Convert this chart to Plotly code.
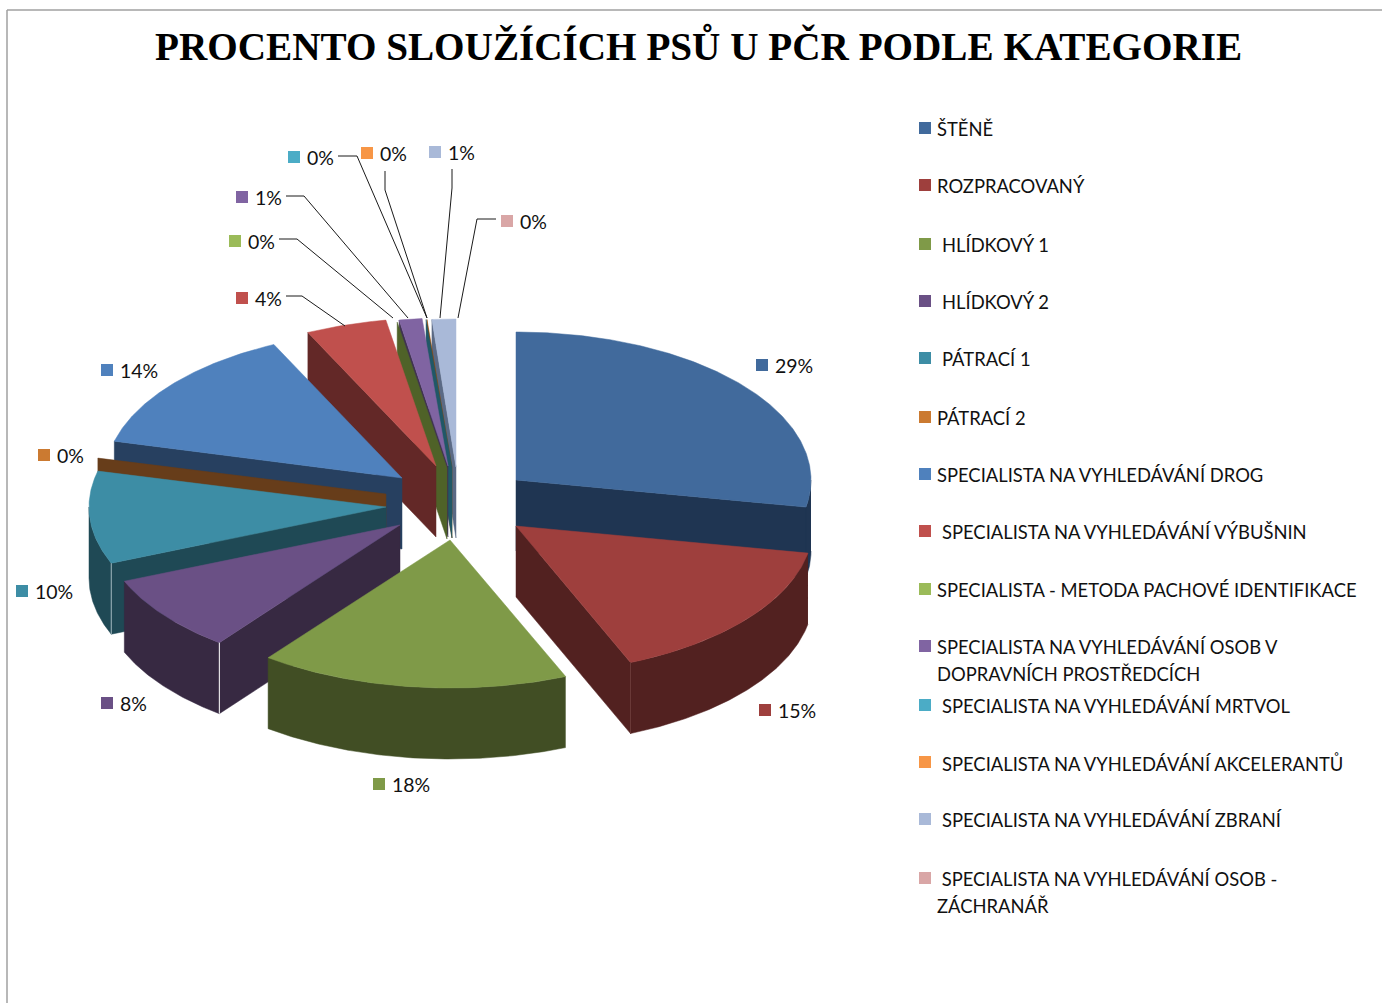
import numpy as np
import plotly.graph_objects as go

TITLE = "PROCENTO SLOUŽÍCÍCH PSŮ U PČR PODLE KATEGORIE"
categories = ["ŠTĚNĚ", "ROZPRACOVANÝ", "HLÍDKOVÝ 1", "HLÍDKOVÝ 2", "PÁTRACÍ 1", "PÁTRACÍ 2",
              "SPECIALISTA NA VYHLEDÁVÁNÍ DROG", "SPECIALISTA NA VYHLEDÁVÁNÍ VÝBUŠNIN",
              "SPECIALISTA - METODA PACHOVÉ IDENTIFIKACE",
              "SPECIALISTA NA VYHLEDÁVÁNÍ OSOB V<br>DOPRAVNÍCH PROSTŘEDCÍCH",
              "SPECIALISTA NA VYHLEDÁVÁNÍ MRTVOL", "SPECIALISTA NA VYHLEDÁVÁNÍ AKCELERANTŮ",
              "SPECIALISTA NA VYHLEDÁVÁNÍ ZBRANÍ", "\u00a0SPECIALISTA NA VYHLEDÁVÁNÍ OSOB -<br>ZÁCHRANÁŘ"]
values = [28.6, 15.1, 17.5, 7.6, 10.1, 0.1, 13.9, 4.4, 0.05, 1.25, 0.05, 0.05, 1.3, 0.0]
value_labels = ["29%", "15%", "18%", "8%", "10%", "0%", "14%", "4%", "0%", "1%", "0%", "0%", "1%", "0%"]

top_colors = ["#416A9C", "#9E3F3D", "#7F9A48", "#6A5085", "#3D8DA5", "#CB7A31", "#4F81BD", "#C0504D",
              "#9BBB59", "#8064A2", "#4BACC6", "#F79646", "#A9B9D8", "#D9A6A6"]
wall_colors = ["#1F3552", "#522120", "#414E24", "#372942", "#1F4955", "#673D1A", "#274060", "#632827",
               "#4F6228", "#3F3151", "#205867", "#974806", "#5B6A85", "#8A6A6A"]
swatch_colors = ["#416A9C", "#9E3F3D", "#7F9A48", "#6A5085", "#3D8DA5", "#CB7A31", "#4F81BD", "#C0504D",
                 "#9BBB59", "#8064A2", "#4BACC6", "#F79646", "#A9B9D8", "#D9A6A6"]
seam_colors = [None, "#6B3A38", None, "#FFFFFF", "#9DB4BC", None, None, None, None, None, None, None, None, None]

# page geometry of the exploded 3-D pie
slice_rx = [295, 297, 300, 298, 297, 297, 297, 297, 295, 295, 295, 295, 295, 295]
RY, DEPTH = 148, 71
centers_x = [516, 516, 450, 400, 386, 386, 402, 436, 447, 448, 452, 452, 456, 457]
centers_y = [480, 526, 540, 525, 507, 494, 478, 466, 468, 466, 467, 467, 467, 467]
draw_order = [13, 12, 11, 10, 9, 8, 7, 6, 5, 4, 0, 1, 3, 2]
# small on-screen shift of some slice boundaries (perspective of the drawing), in degrees
edge_shift = [0, -2.4, 0, -3.0, 0, 0, 0, 0, 0, 0, 0, 0, 0, 0, 0]
SLIVER_DEG = 0.6

# data-label layout
label_sq_x = [762, 765, 379, 107, 22, 44, 107, 242, 235, 242, 294, 367, 435, 507]
label_sq_y = [365, 710, 784, 703, 591, 455, 370, 298, 241, 197, 157, 153, 152, 221]
leaders = {7: ([286, 302, 345], [296, 296, 326]),
           8: ([279, 297, 393], [239, 239, 318]),
           9: ([286, 304, 408], [196, 196, 318]),
           10: ([338, 357, 427], [156, 156, 318]),
           11: ([385, 385, 427], [171, 190, 318]),
           12: ([452, 452, 440], [169, 188, 318]),
           13: ([496, 477, 458], [219, 219, 318])}

# legend layout
legend_sq_y = [128, 185, 244, 301, 358, 417, 474, 531, 589, 646, 705, 762, 819, 878]
legend_text_x = [935, 935, 940, 940, 940, 935, 935, 940, 935, 935, 940, 940, 940, 935]
legend_text_y = [129, 186, 245, 302, 359, 418, 475, 532, 590, 647, 706, 763, 820, 879]
LEGEND_LINE_GAP = 26.5
LEGEND_SQ_X = 925
BODY = "Lato, Carlito, sans-serif"
LABEL_SIZE = 19.5
LEGEND_SIZE = 18.4

fig = go.Figure()


def pt(cx, cy, rx, deg):
    t = np.radians(deg)
    return cx + rx * np.sin(t), cy - RY * np.cos(t)


def poly(xs, ys, color):
    fig.add_trace(go.Scatter(x=list(xs), y=list(ys), mode="lines", fill="toself", fillcolor=color,
                             line=dict(color=color, width=0.5), hoverinfo="skip", showlegend=False))


total = sum(values)
edges = np.concatenate([[0], np.cumsum(values) / total * 360]) + np.array(edge_shift)

for i in draw_order:
    a, b = edges[i], edges[i + 1]
    if b - a <= 0:
        continue
    cx, cy, rx = centers_x[i], centers_y[i], slice_rx[i]
    # radial walls
    for deg, visible in ((a, 180 < a < 360), (b, 0 < b < 180)):
        if visible:
            ex, ey = pt(cx, cy, rx, deg)
            poly([cx, ex, ex, cx, cx], [cy, ey, ey + DEPTH, cy + DEPTH, cy], wall_colors[i])
    # outer rim
    lo, hi = max(a, 90), min(b, 270)
    if hi > lo:
        th = np.linspace(lo, hi, max(int(hi - lo) * 2, 2))
        xs, ys = pt(cx, cy, rx, th)
        poly(np.r_[xs, xs[::-1]], np.r_[ys, ys[::-1] + DEPTH], wall_colors[i])
    # top face (hairline slices show only their wall)
    if b - a > SLIVER_DEG:
        th = np.linspace(a, b, max(int((b - a) * 2), 2))
        xs, ys = pt(cx, cy, rx, th)
        poly(np.r_[cx, xs, cx], np.r_[cy, ys, cy], top_colors[i])
    # lit seam on the front corner
    if seam_colors[i]:
        sx, sy = pt(cx, cy, rx, a if a > 180 else b)
        fig.add_trace(go.Scatter(x=[sx, sx], y=[sy, sy + DEPTH], mode="lines",
                                 line=dict(color=seam_colors[i], width=1),
                                 hoverinfo="skip", showlegend=False))

for k, (lx, ly) in leaders.items():
    fig.add_trace(go.Scatter(x=lx, y=ly, mode="lines", line=dict(color="#1a1a1a", width=1),
                             hoverinfo="skip", showlegend=False))

# data-label swatches and legend swatches
fig.add_trace(go.Scatter(x=label_sq_x, y=label_sq_y, mode="markers",
                         marker=dict(symbol="square", size=12, color=swatch_colors, line=dict(width=0)),
                         hoverinfo="skip", showlegend=False))
fig.add_trace(go.Scatter(x=[LEGEND_SQ_X] * len(legend_sq_y), y=legend_sq_y, mode="markers",
                         marker=dict(symbol="square", size=12, color=swatch_colors, line=dict(width=0)),
                         hoverinfo="skip", showlegend=False))

annotations = [dict(x=698, y=45.5, text=f"<b>{TITLE}</b>", showarrow=False, xref="x", yref="y",
                    font=dict(family="Liberation Serif", size=39.2, color="#000000"))]
for sx, sy, txt in zip(label_sq_x, label_sq_y, value_labels):
    annotations.append(dict(x=sx + 11, y=sy, text=txt, showarrow=False, xref="x", yref="y", xanchor="left",
                            font=dict(family=BODY, size=LABEL_SIZE, color="#111111")))
for tx, ty, txt in zip(legend_text_x, legend_text_y, categories):
    for n, line in enumerate(txt.split("<br>")):
        annotations.append(dict(x=tx, y=ty + n * LEGEND_LINE_GAP, text=line, showarrow=False, xref="x", yref="y",
                                xanchor="left", align="left",
                                font=dict(family=BODY, size=LEGEND_SIZE, color="#111111")))

fig.update_layout(
    width=1382, height=1003, margin=dict(l=0, r=0, t=0, b=0),
    paper_bgcolor="#FFFFFF", plot_bgcolor="#FFFFFF", showlegend=False,
    xaxis=dict(range=[0, 1382], visible=False, fixedrange=True),
    yaxis=dict(range=[1003, 0], visible=False, fixedrange=True),
    annotations=annotations,
    shapes=[dict(type="line", x0=7, x1=1382, y0=10, y1=10, xref="x", yref="y", line=dict(color="#A0A0A0", width=1.5)),
            dict(type="line", x0=7, x1=7, y0=10, y1=1003, xref="x", yref="y", line=dict(color="#A0A0A0", width=1.5))],
)
fig.write_html("out.html", config=dict(displayModeBar=False),
               post_script="document.body.style.margin='0';")
